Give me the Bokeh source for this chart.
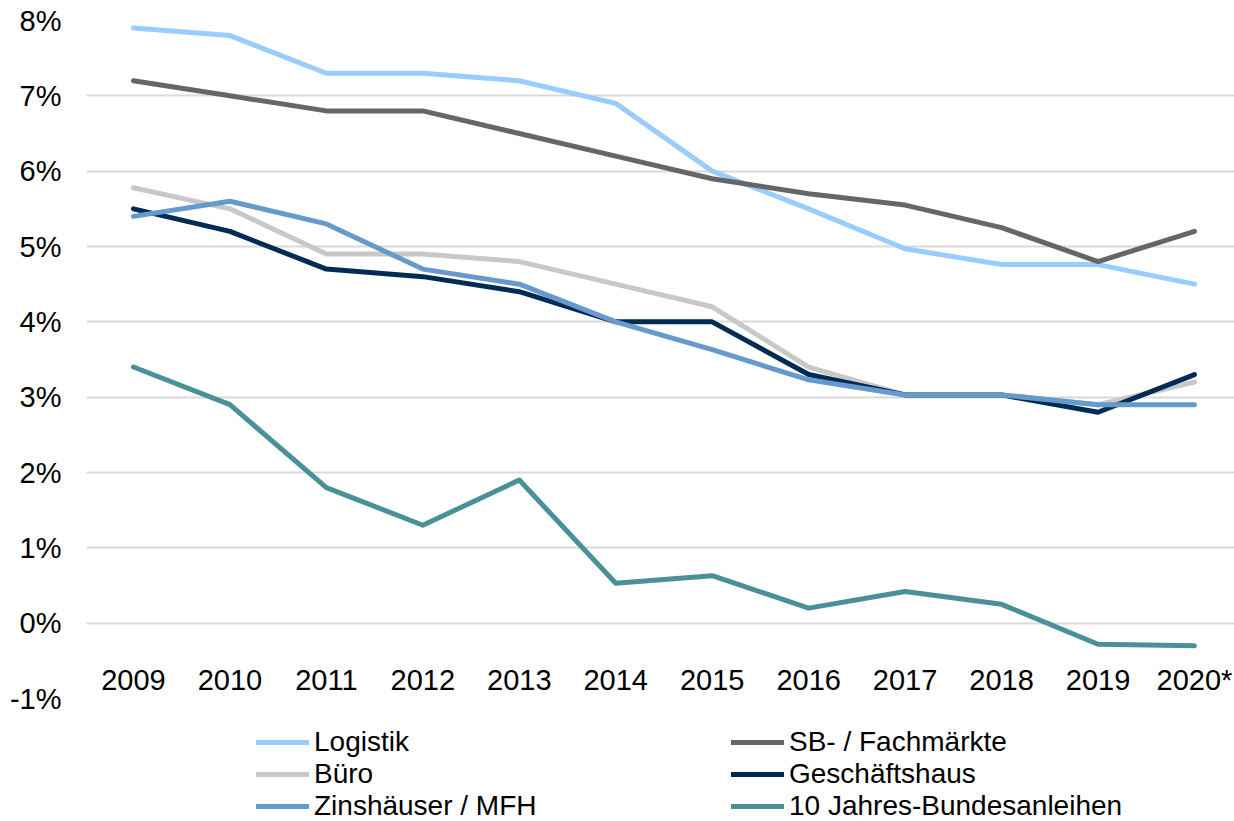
from bokeh.plotting import figure
from bokeh.models import Range1d, Legend, LegendItem, FixedTicker, ColumnDataSource
from bokeh.core.properties import value
from bokeh.embed import file_html
from bokeh.resources import INLINE

years = ["2009", "2010", "2011", "2012", "2013", "2014", "2015", "2016", "2017", "2018", "2019", "2020*"]
logistik = [7.9, 7.8, 7.3, 7.3, 7.2, 6.9, 6.0, 5.5, 4.97, 4.76, 4.76, 4.5]
sb_fachmaerkte = [7.2, 7.0, 6.8, 6.8, 6.5, 6.2, 5.9, 5.7, 5.55, 5.25, 4.8, 5.2]
buero = [5.78, 5.5, 4.9, 4.9, 4.8, 4.5, 4.2, 3.4, 3.03, 3.03, 2.9, 3.2]
geschaeftshaus = [5.5, 5.2, 4.7, 4.6, 4.4, 4.0, 4.0, 3.3, 3.03, 3.03, 2.8, 3.3]
zinshaeuser = [5.4, 5.6, 5.3, 4.7, 4.5, 4.0, 3.63, 3.23, 3.03, 3.03, 2.9, 2.9]
bundesanleihen = [3.4, 2.9, 1.8, 1.3, 1.9, 0.53, 0.63, 0.2, 0.42, 0.25, -0.28, -0.3]

series_names = ["Logistik", "SB- / Fachmärkte", "Büro", "Geschäftshaus", "Zinshäuser / MFH", "10 Jahres-Bundesanleihen"]
series_values = [logistik, sb_fachmaerkte, buero, geschaeftshaus, zinshaeuser, bundesanleihen]
series_colors = ["#99CCFF", "#666666", "#C8C8C8", "#002B55", "#6699CC", "#4A9197"]
legend_order = [0, 2, 4, 1, 3, 5]  # column-major fill: left column, then right column
y_ticks = list(range(-1, 9))

FONT = "Liberation Sans"
FS = "29px"

xs = list(range(len(years)))

p = figure(frame_width=1148, frame_height=678, output_backend="svg", toolbar_location=None,
           x_range=Range1d(-0.487, 11.415), y_range=Range1d(-1, 8),
           min_border_left=86, min_border_top=20, min_border_right=0, min_border_bottom=0,
           x_axis_location=None)
p.outline_line_color = None
p.background_fill_color = "white"

p.yaxis.ticker = FixedTicker(ticks=y_ticks)
p.yaxis.major_label_overrides = {t: f"{t}%" for t in y_ticks}
p.yaxis.axis_line_color = None
p.yaxis.major_tick_line_color = None
p.yaxis.minor_tick_line_color = None
p.yaxis.major_tick_out = 0
p.yaxis.major_tick_in = 0
p.yaxis.major_label_standoff = 25
p.yaxis.major_label_text_font = FONT
p.yaxis.major_label_text_font_size = FS
p.yaxis.major_label_text_color = "#000000"
p.ygrid.grid_line_color = "#D9D9D9"
p.ygrid.grid_line_width = 2
p.xgrid.grid_line_color = None

renderers = []
for name, vals, col in zip(series_names, series_values, series_colors):
    r = p.line(xs, vals, line_color=col, line_width=5, line_cap="round", line_join="round")
    renderers.append(r)

lab_src = ColumnDataSource(dict(x=xs, y=[-0.757] * len(xs), t=years))
p.text(x="x", y="y", text="t", source=lab_src, text_align="center", text_baseline="middle",
       text_font=value(FONT), text_font_size=FS, text_color="#000000")

items = [LegendItem(label=series_names[i], renderers=[renderers[i]]) for i in legend_order]
legend = Legend(items=items, ncols=2, location="top_right")
legend.label_text_font = FONT
legend.label_text_font_size = "28px"
legend.label_text_color = "#000000"
legend.glyph_width = 53
legend.glyph_height = 28
legend.label_standoff = 5
legend.label_width = 417
legend.label_height = 28
legend.spacing = 0
legend.padding = 0
legend.margin = 28
legend.border_line_color = None
legend.background_fill_alpha = 0
p.add_layout(legend, "below")

open("out.html", "w").write(file_html(p, INLINE))
